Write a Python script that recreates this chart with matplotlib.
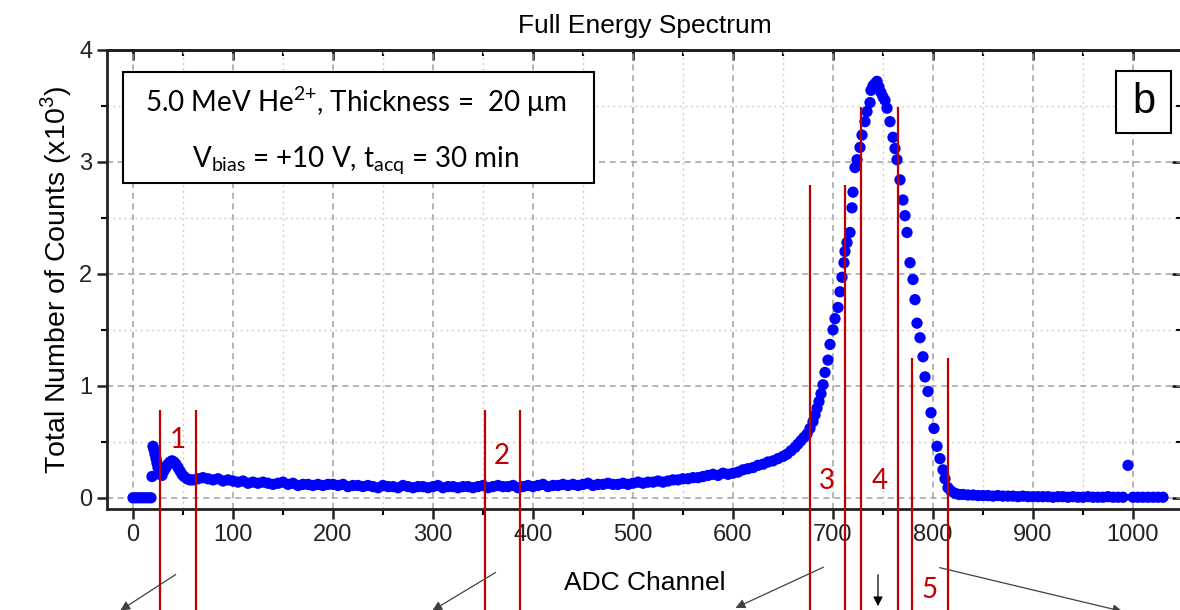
import numpy as np
import matplotlib
matplotlib.use("Agg")
import matplotlib.pyplot as plt
from matplotlib.patches import Rectangle, FancyArrowPatch
from matplotlib.ticker import MultipleLocator

plt.rcParams['font.family'] = ['Liberation Sans', 'DejaVu Sans']
plt.rcParams['mathtext.fontset'] = 'custom'
plt.rcParams['mathtext.rm'] = 'Lato'
plt.rcParams['mathtext.it'] = 'Lato:italic'

# ---- data (counts in units of 10^3) ----
# detector threshold + low-energy tail
low_ch = [0, 3, 6, 9, 12, 15, 18, 19, 20, 21, 22, 23, 24, 25, 27, 29, 31, 33, 35, 37,
          39, 41, 43, 45, 47, 49, 51, 54, 57, 60]
low_counts = [0.0, 0.0, 0.0, 0.0, 0.0, 0.0, 0.0, 0.19, 0.46, 0.43, 0.39, 0.35, 0.31, 0.27,
              0.21, 0.20, 0.24, 0.27, 0.30, 0.32, 0.33, 0.32, 0.30, 0.27, 0.24, 0.21,
              0.19, 0.17, 0.16, 0.16]

# flat plateau, sampled every 5 channels
flat_ch = list(range(65, 600, 5))
flat_counts = [0.17, 0.18, 0.17, 0.16, 0.17, 0.15, 0.16, 0.15, 0.14, 0.15, 0.13, 0.14,
               0.13, 0.14, 0.13, 0.12, 0.13, 0.14, 0.12, 0.13, 0.11, 0.12, 0.12, 0.11,
               0.12, 0.11, 0.12, 0.12, 0.11, 0.12, 0.10, 0.11, 0.11, 0.10, 0.11, 0.10,
               0.09, 0.11, 0.10, 0.10, 0.09, 0.11, 0.10, 0.09, 0.10, 0.10, 0.09, 0.10,
               0.11, 0.09, 0.10, 0.10, 0.09, 0.10, 0.10, 0.09, 0.10, 0.11, 0.09, 0.10,
               0.11, 0.10, 0.10, 0.11, 0.09, 0.10, 0.11, 0.10, 0.11, 0.12, 0.10, 0.11,
               0.11, 0.12, 0.11, 0.12, 0.11, 0.12, 0.13, 0.11, 0.12, 0.12, 0.13, 0.12,
               0.12, 0.13, 0.12, 0.13, 0.14, 0.13, 0.14, 0.14, 0.15, 0.14, 0.15, 0.16,
               0.16, 0.17, 0.17, 0.18, 0.18, 0.19, 0.20, 0.21, 0.20, 0.22, 0.21]

# main alpha peak
peak_ch = [600, 605, 610, 615, 620, 625, 630, 635, 640, 645, 650, 654, 658, 662, 665,
           668, 671, 674, 677, 680, 682, 684, 686, 688, 690, 692, 695, 697, 700, 702,
           705, 707, 709, 711, 712, 714, 717, 719, 720, 722, 724, 727, 729, 732, 734,
           737, 738, 740, 742, 744, 746, 748, 750, 752, 754, 757, 760, 762, 764, 767,
           770, 772, 774, 777, 780, 782, 784, 787, 790, 792, 795, 798, 801, 804, 807,
           810, 812, 815, 818, 822, 826]
peak_counts = [0.22, 0.23, 0.25, 0.26, 0.27, 0.29, 0.30, 0.32, 0.33, 0.35, 0.37, 0.39,
               0.42, 0.45, 0.48, 0.51, 0.54, 0.57, 0.62, 0.68, 0.74, 0.80, 0.86, 0.93,
               1.01, 1.12, 1.23, 1.37, 1.50, 1.60, 1.70, 1.84, 1.97, 2.10, 2.20, 2.28,
               2.37, 2.59, 2.73, 2.95, 3.02, 3.13, 3.24, 3.36, 3.45, 3.53, 3.64, 3.68,
               3.70, 3.72, 3.67, 3.62, 3.58, 3.55, 3.48, 3.36, 3.22, 3.12, 3.02, 2.84,
               2.66, 2.52, 2.37, 2.10, 1.95, 1.77, 1.56, 1.43, 1.26, 1.08, 0.95, 0.76,
               0.62, 0.46, 0.35, 0.25, 0.17, 0.09, 0.06, 0.04, 0.03]

# high-channel tail
tail_ch = list(range(830, 1031, 5))
tail_counts = [0.03, 0.025, 0.025, 0.02, 0.02, 0.02, 0.015, 0.02, 0.015, 0.015, 0.015,
               0.01, 0.015, 0.01, 0.01, 0.01, 0.01, 0.01, 0.005, 0.01, 0.01, 0.005,
               0.01, 0.005, 0.005, 0.01, 0.005, 0.005, 0.005, 0.01, 0.005, 0.005,
               0.005, 0.29, 0.005, 0.005, 0.005, 0.005, 0.005, 0.005, 0.005]

# region boundaries (ADC channel) and line heights
region_edges = [27, 63, 352, 387, 677, 712, 728, 765, 779, 815]
region_tops = [0.78, 0.78, 0.78, 0.78, 2.79, 2.79, 3.49, 3.49, 1.25, 1.25]
region_labels = ['1', '2', '3', '4', '5']
label_x = [45, 369, 694, 747, 797]
label_y = [0.52, 0.37, 0.15, 0.15, -0.82]

channels = np.array(low_ch + flat_ch + peak_ch + tail_ch)
counts = np.array(low_counts + flat_counts + peak_counts + tail_counts)

fig = plt.figure(figsize=(11.8, 6.1), dpi=100)
ax = fig.add_axes([107 / 1180, 101 / 610, 1075 / 1180, 459 / 610])

ax.scatter(channels, counts, s=66, color='#0000ff', edgecolors='none', zorder=3)

ax.set_xlim(-26, 1049)
ax.set_ylim(-0.1, 4)
ax.xaxis.set_major_locator(MultipleLocator(100))
ax.xaxis.set_minor_locator(MultipleLocator(50))
ax.yaxis.set_major_locator(MultipleLocator(1))
ax.yaxis.set_minor_locator(MultipleLocator(0.5))

ax.grid(which='major', color='#a0a0a0', linestyle=(0, (4, 3)), linewidth=1.1)
ax.grid(which='minor', color='#cfcfcf', linestyle=(0, (1.5, 2.5)), linewidth=1.0)
ax.set_axisbelow(True)

for side in ['left', 'bottom', 'top', 'right']:
    ax.spines[side].set_linewidth(2)
    ax.spines[side].set_color('#222222')

ax.tick_params(which='major', direction='out', length=7, width=1.8, labelsize=17,
               colors='#222222')
ax.tick_params(which='minor', direction='out', length=4, width=1.5)

# inward ticks on top and right
top = ax.secondary_xaxis('top')
top.xaxis.set_major_locator(MultipleLocator(100))
top.xaxis.set_minor_locator(MultipleLocator(50))
top.tick_params(which='major', direction='in', length=7, width=1.8, labeltop=False)
top.tick_params(which='minor', direction='in', length=4, width=1.5)
top.spines['top'].set_linewidth(2)
right = ax.secondary_yaxis('right')
right.yaxis.set_major_locator(MultipleLocator(1))
right.yaxis.set_minor_locator(MultipleLocator(0.5))
right.tick_params(which='major', direction='in', length=7, width=1.8, labelright=False)
right.tick_params(which='minor', direction='in', length=4, width=1.5)

ax.set_title('Full Energy Spectrum', fontsize=19, pad=12)
ax.set_xlabel('ADC Channel', fontsize=19, labelpad=18)
ax.set_ylabel('Total Number of Counts (x10$^{3}$)', fontsize=20.5, labelpad=4)

# region markers
ax.vlines(region_edges, -1.05, region_tops, color='#c00000', linewidth=1.6,
          clip_on=False, zorder=4)
for lab, lx, ly in zip(region_labels, label_x, label_y):
    ax.text(lx, ly, lab, color='#c00000', fontsize=20, family='Lato',
            ha='center', va='center', clip_on=False, zorder=5)

# info box
ax.add_patch(Rectangle((0.015, 0.710), 0.438, 0.242, transform=ax.transAxes,
                       facecolor='white', edgecolor='black', linewidth=1.5, zorder=6))
ax.text(0.231, 0.887, r'5.0 MeV He$^{2{+}}$, Thickness =  20 μm',
        transform=ax.transAxes, ha='center', va='center', fontsize=20,
        family='Lato', zorder=7)
ax.text(0.231, 0.760, r'V$_{\mathrm{bias}}$ = +10 V, t$_{\mathrm{acq}}$ = 30 min',
        transform=ax.transAxes, ha='center', va='center', fontsize=20,
        family='Lato', zorder=7)

# panel letter
ax.add_patch(Rectangle((0.939, 0.819), 0.051, 0.135, transform=ax.transAxes,
                       facecolor='white', edgecolor='black', linewidth=1.5, zorder=6))
ax.text(0.9645, 0.887, 'b', transform=ax.transAxes, ha='center', va='center',
        fontsize=30, zorder=7)

# arrows pointing to the (cropped) panels below
arrows = [((178, 573), (118, 612), '#404040'),
          ((498, 571), (430, 612), '#404040'),
          ((826, 566), (733, 609), '#404040'),
          ((878, 572), (878, 609), '#000000'),
          ((937, 567), (1125, 612), '#404040')]
for (x0, y0), (x1, y1), col in arrows:
    fig.patches.append(FancyArrowPatch(
        (x0 / 1180, 1 - y0 / 610), (x1 / 1180, 1 - y1 / 610),
        transform=fig.transFigure, arrowstyle='-|>', mutation_scale=14,
        color=col, linewidth=0.9))

fig.savefig('out.png', dpi=100)
